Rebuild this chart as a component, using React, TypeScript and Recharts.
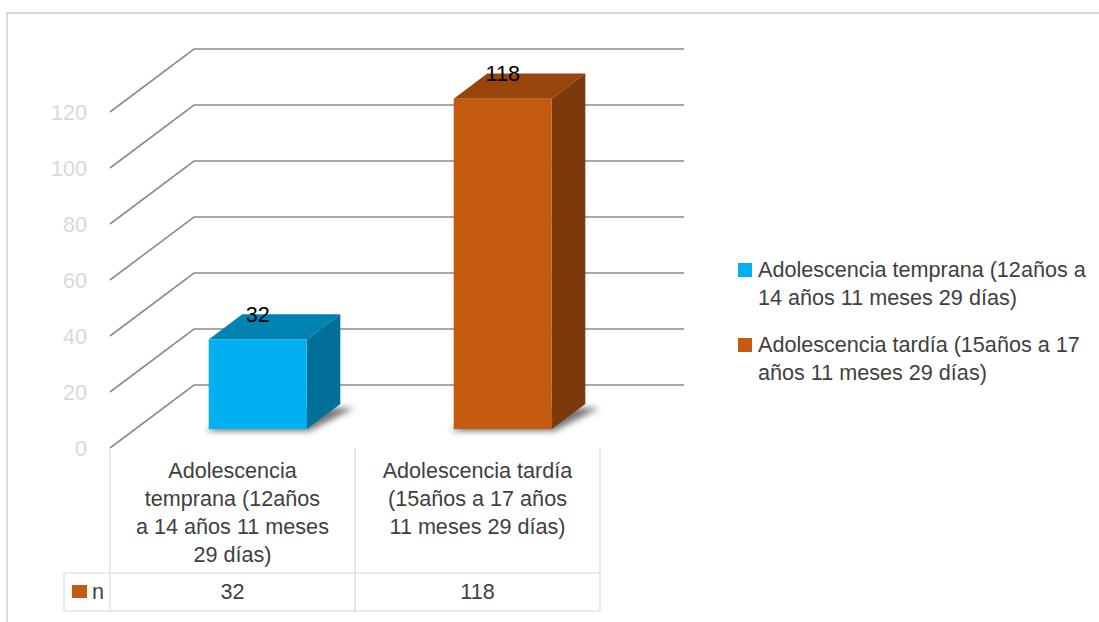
import { BarChart, Bar, XAxis, YAxis, CartesianGrid, Legend } from "recharts";

// data
const categories = [
  "Adolescencia temprana (12años a 14 años 11 meses 29 días)",
  "Adolescencia tardía (15años a 17 años 11 meses 29 días)",
];
const tableLines = [
  ["Adolescencia", "temprana (12años", "a 14 años 11 meses", "29 días)"],
  ["Adolescencia tardía", "(15años a 17 años", "11 meses 29 días)"],
];
const legendLines = [
  ["Adolescencia temprana (12años a", "14 años 11 meses 29 días)"],
  ["Adolescencia tardía (15años a 17", "años 11 meses 29 días)"],
];
const values = [32, 118];
const seriesName = "n";
const yTicks = [0, 20, 40, 60, 80, 100, 120];

const frontColors = ["#00b0f0", "#c55a11"];
const topColors = ["#0083b3", "#97440d"];
const sideColors = ["#00709a", "#7d390b"];

const FONT = "'Liberation Sans', Arial, sans-serif";
const FS = 21.6;
const TEXT = "#404040";
const BORDER = "#e3e3e3";
// floor depth of the 3d plot
const DX = 84;
const DY = 63;
const BAR_START = 0.3;
const BAR_DEPTH = 0.4;

const data = categories.map((c, i) => ({ name: c, n: values[i] }));

function Bar3D(props: any) {
  const { x, y, width, height, index, value } = props;
  const bx = x + DX * BAR_START;
  const by = y - DY * BAR_START;
  const dx = DX * BAR_DEPTH;
  const dy = DY * BAR_DEPTH;
  const bottom = by + height;
  const r = bx + width;
  return (
    <g>
      <polygon
        points={`${bx - 3},${bottom + 2} ${r + 2},${bottom + 2} ${r + dx + 14},${bottom - dy + 4} ${bx + dx},${bottom - dy + 4}`}
        fill="#000"
        fillOpacity={0.55}
        filter="url(#shadowBlur)"
      />
      <polygon
        points={`${bx},${by} ${bx + dx},${by - dy} ${r + dx},${by - dy} ${r},${by}`}
        fill={topColors[index]}
      />
      <polygon
        points={`${r},${by} ${r + dx},${by - dy} ${r + dx},${bottom - dy} ${r},${bottom}`}
        fill={sideColors[index]}
      />
      <rect x={bx} y={by} width={width} height={height} fill={frontColors[index]} />
      <text
        x={bx + width / 2}
        y={by - 18}
        textAnchor="middle"
        fontSize={FS}
        fontFamily={FONT}
        fill="#000"
      >
        {value}
      </text>
    </g>
  );
}

function gridLine(p: any) {
  const { x1, x2, y1, index } = p;
  return (
    <polyline
      key={`gl-${index}`}
      points={`${x1},${y1} ${x1 + DX},${y1 - DY} ${x2 + DX},${y1 - DY}`}
      fill="none"
      stroke="#8c8c8c"
      strokeWidth={1.6}
    />
  );
}

function TableTick(props: any) {
  const { x, y, width, visibleTicksCount, payload, index } = props;
  const cw = width / visibleTicksCount;
  const l = x - cw / 2;
  const rr = x + cw / 2;
  const lines = tableLines[payload.index ?? index];
  return (
    <g fontFamily={FONT} fontSize={FS} fill={TEXT}>
      <line x1={l} y1={y} x2={l} y2={y + 163} stroke={BORDER} strokeWidth={1.5} />
      <line x1={rr} y1={y} x2={rr} y2={y + 163} stroke={BORDER} strokeWidth={1.5} />
      <line x1={l} y1={y + 125} x2={rr} y2={y + 125} stroke={BORDER} strokeWidth={1.5} />
      <line x1={l} y1={y + 163} x2={rr} y2={y + 163} stroke={BORDER} strokeWidth={1.5} />
      {lines.map((t, k) => (
        <text key={k} x={x} y={y + 30 + k * 28} textAnchor="middle">
          {t}
        </text>
      ))}
      <text x={x} y={y + 151} textAnchor="middle">
        {values[index]}
      </text>
      {index === 0 && (
        <g>
          <line x1={l - 46} y1={y + 125} x2={l} y2={y + 125} stroke={BORDER} strokeWidth={1.5} />
          <line x1={l - 46} y1={y + 163} x2={l} y2={y + 163} stroke={BORDER} strokeWidth={1.5} />
          <line x1={l - 46} y1={y + 125} x2={l - 46} y2={y + 163} stroke={BORDER} strokeWidth={1.5} />
          <rect x={l - 38} y={y + 137} width={15} height={13} fill={frontColors[1]} />
          <text x={l - 18} y={y + 151}>
            {seriesName}
          </text>
        </g>
      )}
    </g>
  );
}

function LegendBox() {
  return (
    <div style={{ fontFamily: FONT, fontSize: FS, color: TEXT, lineHeight: "28px" }}>
      {legendLines.map((ls, i) => (
        <div key={i} style={{ position: "relative", paddingLeft: 20, marginBottom: 19 }}>
          <span
            style={{
              position: "absolute",
              left: 0,
              top: 7,
              width: 14,
              height: 14,
              background: frontColors[i],
            }}
          />
          {ls.map((t, k) => (
            <div key={k} style={{ whiteSpace: "nowrap" }}>
              {t}
            </div>
          ))}
        </div>
      ))}
    </div>
  );
}

export default function App() {
  return (
    <div
      style={{
        position: "fixed",
        left: 0,
        top: 0,
        width: 1099,
        height: 622,
        overflow: "hidden",
        background: "#fff",
      }}
    >
      <div
        style={{
          position: "absolute",
          left: 6,
          top: 12,
          width: 1100,
          height: 620,
          borderTop: "2px solid #d9d9d9",
          borderLeft: "2px solid #d9d9d9",
        }}
      />
      <BarChart
        width={1099}
        height={622}
        data={data}
        margin={{ top: 112, right: 499, bottom: 14, left: 0 }}
        barCategoryGap="30%"
      >
        <defs>
          <filter id="shadowBlur" x="-30%" y="-100%" width="160%" height="300%">
            <feGaussianBlur stdDeviation="3" />
          </filter>
        </defs>
        <CartesianGrid vertical={false} horizontal={gridLine} />
        <YAxis
          type="number"
          domain={[0, 120]}
          ticks={yTicks}
          width={110}
          axisLine={false}
          tickLine={false}
          tickSize={0}
          tickMargin={23}
          tick={{ fill: "#d9d9d9", fontSize: FS, fontFamily: FONT }}
        />
        <XAxis
          dataKey="name"
          height={160}
          axisLine={false}
          tickLine={false}
          tickSize={0}
          tickMargin={0}
          interval={0}
          tick={<TableTick />}
        />
        <Legend
          layout="vertical"
          align="center"
          verticalAlign="middle"
          content={<LegendBox />}
          wrapperStyle={{ left: 738, top: 256, width: 360 }}
        />
        <Bar dataKey="n" shape={<Bar3D />} isAnimationActive={false} />
      </BarChart>
    </div>
  );
}
